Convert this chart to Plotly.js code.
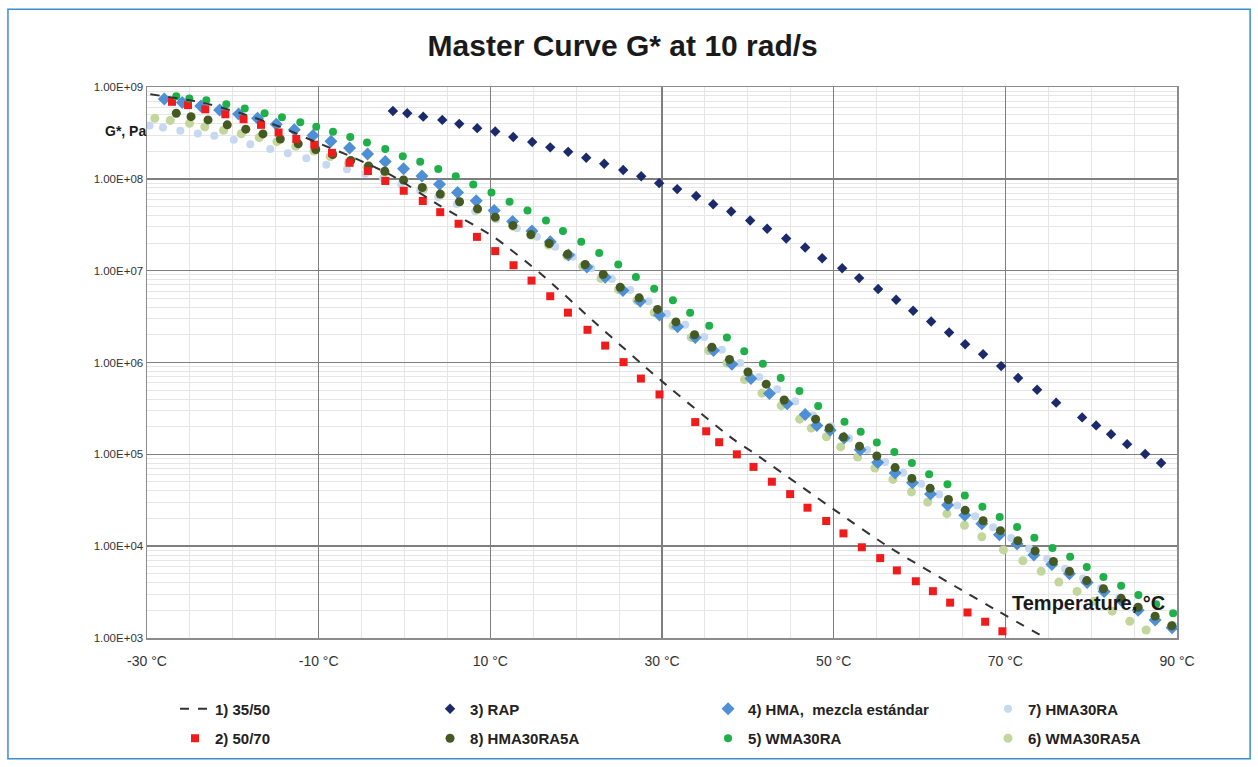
<!DOCTYPE html>
<html>
<head>
<meta charset="utf-8">
<script src="https://cdn.plot.ly/plotly-3.0.1.min.js"></script>
<style>html,body{margin:0;padding:0;background:#fff;}#chart{width:1258px;height:767px;}</style>
</head>
<body>
<div id="chart"></div>
<script>
// ---- Data (temperature in °C, log10 of G* in Pa) ----
var b3550T = [-29.62,-23.79,-19.13,-14.47,-10.16,-5.97,-1.31,4.16,10.34,15.81,22.45,29.79,38.29,40.62,50.17,56.58,64.39,69.16,74.87];
var b3550LogG = [8.921,8.835,8.717,8.566,8.394,8.233,8.028,7.705,7.371,6.973,6.413,5.811,5.165,5.020,4.390,3.981,3.550,3.292,2.990];

var b5070T = [-27.09,-25.22,-23.21,-20.88,-18.75,-16.72,-14.67,-12.61,-10.51,-8.45,-6.40,-4.26,-2.24,-0.09,2.13,4.16,6.30,8.44,10.57,12.70,14.80,16.98,19.04,21.32,23.38,25.52,27.54,29.71,33.87,35.15,36.66,38.72,40.66,42.80,44.93,46.95,49.13,51.14,53.28,55.42,57.36,59.57,61.56,63.57,65.59,67.65,69.66];
var b5070LogG = [8.839,8.803,8.757,8.703,8.649,8.588,8.505,8.434,8.372,8.283,8.175,8.085,7.977,7.870,7.759,7.637,7.511,7.368,7.213,7.059,6.892,6.722,6.543,6.356,6.184,6.004,5.825,5.652,5.351,5.251,5.132,5.000,4.863,4.702,4.567,4.419,4.274,4.139,3.988,3.870,3.736,3.618,3.510,3.385,3.278,3.177,3.073];

var rapT = [-1.35,0.32,2.18,4.40,6.38,8.47,10.57,12.67,14.88,16.98,19.07,21.17,23.27,25.48,27.58,29.67,31.77,33.98,35.96,38.06,40.27,42.25,44.47,46.68,48.66,50.99,52.97,55.18,57.28,59.26,61.36,63.45,65.32,67.41,69.51,71.49,73.70,75.92,78.95,80.58,82.32,84.19,86.29,88.15];
var rapLogG = [8.738,8.714,8.677,8.642,8.599,8.552,8.516,8.455,8.401,8.343,8.294,8.229,8.165,8.096,8.028,7.953,7.888,7.813,7.723,7.644,7.547,7.457,7.350,7.253,7.135,7.027,6.919,6.801,6.683,6.564,6.446,6.327,6.198,6.090,5.961,5.832,5.703,5.563,5.402,5.315,5.219,5.111,5.003,4.906];

var hmaT = [-27.98,-25.89,-23.73,-21.54,-19.33,-17.12,-14.94,-12.84,-10.66,-8.57,-6.40,-4.30,-2.24,-0.11,2.03,4.08,6.18,8.36,10.45,12.59,14.85,16.98,19.11,21.25,23.38,25.45,27.46,29.71,31.81,33.87,36.00,38.14,40.36,42.52,44.58,46.68,48.04,49.59,51.22,53.09,55.13,57.16,59.18,61.28,63.28,65.28,67.26,69.31,71.37,73.32,75.42,77.47,79.53,81.51,83.49,85.47,87.45,89.43];
var hmaLogG = [8.868,8.830,8.792,8.749,8.706,8.660,8.595,8.534,8.473,8.408,8.337,8.270,8.189,8.111,8.031,7.942,7.852,7.762,7.654,7.536,7.433,7.314,7.170,7.040,6.928,6.783,6.668,6.518,6.389,6.273,6.130,5.980,5.825,5.663,5.552,5.434,5.315,5.262,5.179,5.049,4.910,4.796,4.691,4.569,4.447,4.336,4.244,4.124,4.024,3.905,3.801,3.699,3.604,3.507,3.410,3.302,3.195,3.112];

var h30T = [-29.70,-28.14,-26.12,-24.08,-22.16,-19.89,-17.97,-15.64,-13.60,-11.44,-9.11,-6.70,-4.57,-2.48,-0.38,1.83,3.93,6.09,8.24,10.69,13.10,15.43,17.56,19.60,21.75,24.16,26.30,28.43,30.57,32.70,34.92,36.98,39.11,41.32,43.42,45.52,47.61,49.71,51.81,53.90,56.00,58.10,60.19,62.29,64.39,66.48,68.58,70.68,72.77,74.87,76.97,79.06,81.16,83.26,85.35,87.45,89.55];
var h30LogG = [8.580,8.559,8.523,8.494,8.469,8.426,8.376,8.326,8.279,8.225,8.152,8.103,8.055,8.006,7.942,7.872,7.802,7.727,7.646,7.560,7.463,7.368,7.260,7.151,7.027,6.909,6.790,6.668,6.532,6.410,6.279,6.139,5.994,5.843,5.708,5.574,5.423,5.305,5.176,5.046,4.917,4.799,4.680,4.562,4.444,4.325,4.207,4.088,3.975,3.862,3.755,3.647,3.545,3.442,3.335,3.232,3.141];

var h5aT = [-26.59,-24.87,-22.89,-20.65,-18.49,-16.49,-14.47,-12.38,-10.34,-8.36,-6.26,-4.19,-2.30,-0.11,2.07,4.16,6.41,8.51,10.57,12.63,14.73,16.86,18.99,21.05,23.15,25.13,27.34,29.48,31.62,33.79,35.81,37.86,40.01,42.14,44.23,47.90,49.48,51.14,53.01,55.03,57.16,59.11,61.24,63.37,65.32,67.41,69.43,71.46,73.47,75.60,77.47,79.49,81.43,83.49,85.47,87.45,89.39];
var h5aLogG = [8.714,8.677,8.642,8.588,8.541,8.489,8.434,8.381,8.319,8.265,8.200,8.141,8.082,7.987,7.906,7.834,7.751,7.673,7.583,7.493,7.393,7.296,7.178,7.067,6.959,6.819,6.704,6.578,6.442,6.302,6.166,6.033,5.897,5.764,5.592,5.383,5.286,5.189,5.089,4.982,4.856,4.737,4.630,4.508,4.390,4.277,4.169,4.059,3.948,3.833,3.726,3.625,3.536,3.432,3.335,3.238,3.133];

var wmaT = [-26.59,-25.07,-23.09,-20.76,-18.61,-16.30,-14.28,-12.14,-10.28,-8.33,-6.32,-4.37,-2.24,-0.20,1.83,3.93,5.97,8.01,10.13,12.24,14.33,16.48,18.46,20.59,22.68,24.90,26.96,29.09,31.27,33.28,35.50,37.56,39.58,41.75,43.83,46.01,48.20,51.26,53.15,55.03,57.07,59.11,61.12,63.26,65.28,67.33,69.34,71.37,73.38,75.49,77.55,79.49,81.43,83.49,85.50,87.57,89.55];
var wmaLogG = [8.900,8.875,8.857,8.811,8.767,8.714,8.671,8.617,8.566,8.512,8.455,8.396,8.324,8.247,8.186,8.108,8.028,7.939,7.852,7.751,7.654,7.547,7.433,7.314,7.192,7.067,6.930,6.804,6.679,6.543,6.399,6.273,6.123,5.986,5.832,5.690,5.527,5.356,5.245,5.130,5.025,4.906,4.783,4.673,4.551,4.429,4.318,4.210,4.092,3.981,3.884,3.773,3.663,3.568,3.467,3.367,3.270];

var w5aT = [-29.09,-27.29,-25.04,-23.27,-21.08,-19.02,-16.92,-14.86,-12.67,-10.55,-8.65,-6.52,-4.37,-2.24,-0.03,2.22,4.25,6.41,8.51,10.57,12.63,14.73,16.78,18.92,20.76,22.89,24.93,27.08,29.09,31.27,33.40,35.42,37.56,39.61,41.64,43.89,46.04,47.38,49.16,50.82,52.80,54.80,56.90,59.06,60.95,63.19,65.24,67.26,69.78,72.04,74.17,76.23,78.36,80.34,82.44,84.50,86.40];
var w5aLogG = [8.660,8.636,8.604,8.566,8.529,8.491,8.450,8.405,8.354,8.302,8.243,8.171,8.125,8.068,7.980,7.888,7.829,7.748,7.662,7.573,7.482,7.385,7.278,7.159,7.048,6.916,6.793,6.675,6.543,6.399,6.273,6.130,5.994,5.814,5.667,5.531,5.383,5.286,5.192,5.081,4.971,4.850,4.727,4.591,4.479,4.354,4.228,4.102,3.959,3.841,3.726,3.609,3.507,3.399,3.292,3.182,3.087];

var seriesNames = ['1) 35/50','2) 50/70','3) RAP','4) HMA,  mezcla estándar','7) HMA30RA','8) HMA30RA5A','5) WMA30RA','6) WMA30RA5A'];
var xTickVals = [-30,-10,10,30,50,70,90];
var xTickText = ['-30 °C','-10 °C','10 °C','30 °C','50 °C','70 °C','90 °C'];
var yTickVals = [1e3,1e4,1e5,1e6,1e7,1e8,1e9];
var yTickText = ['1.00E+03','1.00E+04','1.00E+05','1.00E+06','1.00E+07','1.00E+08','1.00E+09'];

function toG(a){ return a.map(function(v){ return Math.pow(10, v); }); }

var FONT = 'Liberation Sans, Arial, sans-serif';

function pts(name, x, ly, sym, color, size, legend, rank, group){
  return {type:'scatter', mode:'markers', name:name, x:x, y:toG(ly),
    marker:{symbol:sym, color:color, size:size, line:{width:0}},
    legend:legend, legendrank:rank, legendgroup:group, hoverinfo:'x+y+name'};
}

var traces = [
  pts(seriesNames[4], h30T, h30LogG, 'circle', '#c6d9f0', 8, 'legend4', 1, 'g7'),
  pts(seriesNames[7], w5aT, w5aLogG, 'circle', '#c3d69b', 9, 'legend4', 2, 'g8'),
  pts(seriesNames[3], hmaT, hmaLogG, 'diamond', '#4f8fd6', 10, 'legend3', 1, 'g5'),
  pts(seriesNames[5], h5aT, h5aLogG, 'circle', '#445a22', 9, 'legend2', 2, 'g4'),
  pts(seriesNames[1], b5070T, b5070LogG, 'square', '#f01c1c', 8, 'legend', 2, 'g2'),
  pts(seriesNames[6], wmaT, wmaLogG, 'circle', '#1fb04a', 8, 'legend3', 2, 'g6'),
  pts(seriesNames[2], rapT, rapLogG, 'diamond', '#1a2a6b', 8, 'legend2', 1, 'g3'),
  {type:'scatter', mode:'lines', name:seriesNames[0], x:b3550T, y:toG(b3550LogG),
   line:{color:'#333333', width:2, dash:'dash', shape:'spline', smoothing:0.6},
   legend:'legend', legendrank:1, legendgroup:'g1', hoverinfo:'x+y+name'}
];

function leg(x){
  return {x:x, y:-0.099, xref:'paper', yref:'paper', xanchor:'left', yanchor:'top',
    orientation:'v', traceorder:'grouped', tracegroupgap:7, bgcolor:'rgba(0,0,0,0)',
    font:{family:FONT, size:15, color:'#222', weight:'bold'}, itemwidth:30};
}

var layout = {
  width:1258, height:767,
  margin:{l:147, r:81, t:87, b:123},
  paper_bgcolor:'#ffffff', plot_bgcolor:'#ffffff',
  showlegend:true,
  title:{text:'<b>Master Curve G* at 10 rad/s</b>', x:0.495, xref:'container', y:0.941, yref:'container', yanchor:'middle', xanchor:'center',
    font:{family:FONT, size:30, color:'#1a1a1a'}},
  xaxis:{range:[-30,90], tickvals:xTickVals, ticktext:xTickText, showgrid:true, gridcolor:'#7f7f7f', gridwidth:1.6,
    zeroline:false, showline:true, linecolor:'#8c8c8c', linewidth:1.5, mirror:true, ticks:'', ticklabelstandoff:10,
    tickfont:{family:FONT, size:14, color:'#333'},
    minor:{dtick:5, tick0:-30, showgrid:true, gridcolor:'#e6e6e6', gridwidth:1}},
  yaxis:{type:'log', range:[3,9], tickvals:yTickVals, ticktext:yTickText, showgrid:true, gridcolor:'#7f7f7f', gridwidth:1.6,
    zeroline:false, showline:true, linecolor:'#8c8c8c', linewidth:1.5, mirror:true, ticks:'',
    tickfont:{family:FONT, size:11.5, color:'#333'},
    minor:{dtick:'D1', showgrid:true, gridcolor:'#e6e6e6', gridwidth:1}},
  legend:leg(0.0272),
  legend2:leg(0.2748),
  legend3:leg(0.5447),
  legend4:leg(0.8165),
  annotations:[
    {text:'<b>G*, Pa</b>', xref:'paper', yref:'paper', x:-0.0204, y:0.9205, xanchor:'center', yanchor:'middle', showarrow:false,
     font:{family:FONT, size:14, color:'#1a1a1a'}},
    {text:'<b>Temperature, °C</b>', xref:'paper', yref:'paper', x:0.9136, y:0.0628, xanchor:'center', yanchor:'middle', showarrow:false,
     font:{family:FONT, size:20, color:'#1a1a1a'}}
  ],
  shapes:[
    {type:'rect', xref:'paper', yref:'paper', x0:-0.135, x1:1.071, y0:-0.219, y1:1.141,
     line:{color:'#3b8ec8', width:1.5}, fillcolor:'rgba(0,0,0,0)', layer:'below'}
  ]
};

Plotly.newPlot('chart', traces, layout, {displayModeBar:false, staticPlot:true});
</script>
</body>
</html>
